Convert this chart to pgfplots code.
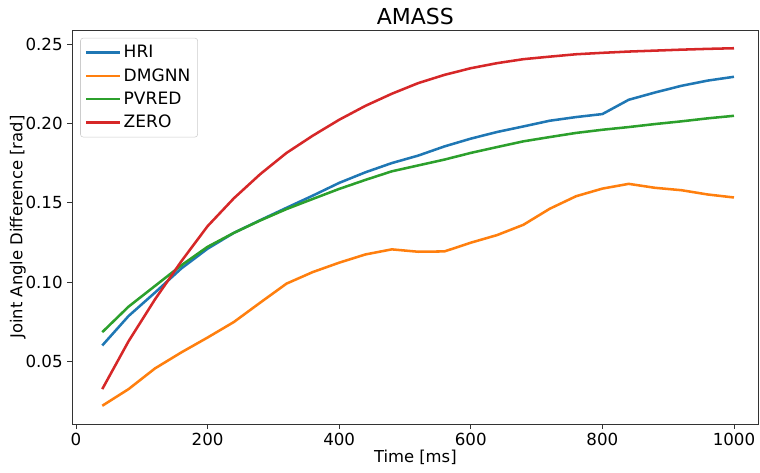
\documentclass[border=0pt]{standalone}
\usepackage{fontspec}
\setmainfont{DejaVu Sans}
\usepackage{pgfplots}
\pgfplotsset{compat=1.18}
\definecolor{c0}{HTML}{1F77B4}
\definecolor{c1}{HTML}{FF7F0E}
\definecolor{c2}{HTML}{2CA02C}
\definecolor{c3}{HTML}{D62728}
\begin{document}
\begin{tikzpicture}
\useasboundingbox (-54pt,-36.75pt) rectangle (516pt,318pt);
\begin{axis}[
  scale only axis,
  width=515pt, height=295.5pt,
  at={(0,0)}, anchor=south west,
  xmin=-6, xmax=1037.5,
  ymin=0.0105, ymax=0.2589,
  xtick={0,200,400,600,800,1000},
  ytick={0.05,0.10,0.15,0.20,0.25},
  yticklabels={0.05,0.10,0.15,0.20,0.25},
  /pgf/number format/1000 sep={},
  /pgf/number format/assume math mode=true,
  tick label style={font=\fontsize{12.5}{14}\selectfont},
  xlabel={Time [ms]},
  ylabel={Joint Angle Difference [rad]},
  label style={font=\fontsize{12.3}{14}\selectfont},
  xlabel style={yshift=4pt},
  ylabel style={yshift=-7pt},
  title={AMASS},
  title style={font=\fontsize{16.5}{18}\selectfont, yshift=-6pt},
  tick align=outside,
  tick pos=left,
  major tick length=3.5pt,
  axis line style={black!80, line width=0.6pt},
  every tick/.style={black!80, line width=0.6pt},
  legend style={font=\fontsize{12.8}{15}\selectfont, draw=black!20, rounded corners=2pt, at={(0.012,0.98)}, anchor=north west, row sep=2.5pt, inner sep=3.5pt},
  legend image code/.code={\draw[#1] (0pt,0pt) -- (25pt,0pt);},
  legend cell align=left,
  every axis plot/.append style={line width=1.9pt, line join=round},
]
\addplot[c0] coordinates {
(40,0.0600)(80,0.0786)(120,0.0933)(160,0.1085)(200,0.1210)(240,0.1310)(280,0.1390)(320,0.1468)(360,0.1545)(400,0.1625)(440,0.1692)(480,0.1750)(520,0.1797)(560,0.1855)(600,0.1904)(640,0.1946)(680,0.1981)(720,0.2017)(760,0.2040)(800,0.2059)(840,0.2149)(880,0.2195)(920,0.2237)(960,0.2270)(1000,0.2294)};
\addlegendentry{HRI}
\addplot[c1] coordinates {
(40,0.0220)(80,0.0325)(120,0.0455)(160,0.0556)(200,0.0650)(240,0.0748)(280,0.0870)(320,0.0990)(360,0.1063)(400,0.1122)(440,0.1174)(480,0.1206)(520,0.1191)(560,0.1193)(600,0.1248)(640,0.1296)(680,0.1361)(720,0.1462)(760,0.1541)(800,0.1589)(840,0.1619)(880,0.1594)(920,0.1579)(960,0.1552)(1000,0.1533)};
\addlegendentry{DMGNN}
\addplot[c2] coordinates {
(40,0.0684)(80,0.0845)(120,0.0975)(160,0.1105)(200,0.1222)(240,0.1310)(280,0.1388)(320,0.1460)(360,0.1524)(400,0.1587)(440,0.1644)(480,0.1698)(520,0.1735)(560,0.1772)(600,0.1814)(640,0.1851)(680,0.1887)(720,0.1914)(760,0.1940)(800,0.1960)(840,0.1977)(880,0.1996)(920,0.2013)(960,0.2032)(1000,0.2048)};
\addlegendentry{PVRED}
\addplot[c3] coordinates {
(40,0.0325)(80,0.0627)(120,0.0890)(160,0.1130)(200,0.1352)(240,0.1528)(280,0.1680)(320,0.1814)(360,0.1923)(400,0.2023)(440,0.2111)(480,0.2187)(520,0.2254)(560,0.2306)(600,0.2348)(640,0.2380)(680,0.2405)(720,0.2421)(760,0.2436)(800,0.2445)(840,0.2453)(880,0.2459)(920,0.2465)(960,0.2470)(1000,0.2474)};
\addlegendentry{ZERO}
\end{axis}
\end{tikzpicture}
\end{document}
